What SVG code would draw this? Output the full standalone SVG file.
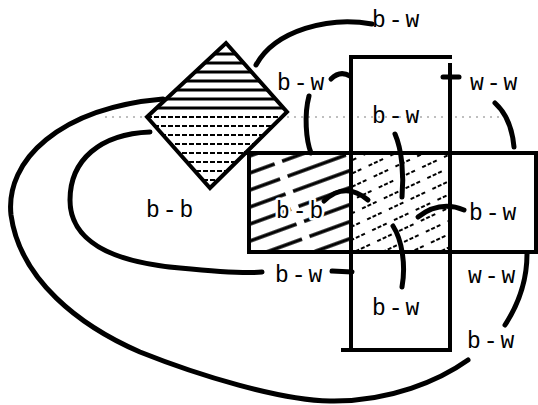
<svg xmlns="http://www.w3.org/2000/svg" width="538" height="405" viewBox="0 0 538 405">
<style>
  .frame { fill: none; stroke: #000; stroke-width: 4; stroke-linecap: square; }
  .conn { fill: none; stroke: #000; stroke-width: 5; stroke-linecap: round; }
  .lbl { font-family: "Liberation Mono", "DejaVu Sans Mono", monospace; font-size: 23px; letter-spacing: 3px; fill: #000; }
  .halo { stroke: #fff; stroke-width: 5px; paint-order: stroke; stroke-linejoin: round; }
  .hb { stroke: #000; stroke-width: 3; }
  .hl { stroke: #000; stroke-width: 2; stroke-dasharray: 5 2; }
</style>
<defs>
  <pattern id="boldHatch" patternUnits="userSpaceOnUse" width="70" height="16" patternTransform="rotate(-20)">
    <line x1="0" y1="8" x2="62" y2="8" stroke="#000" stroke-width="3.5"/>
  </pattern>
  <pattern id="lightHatch" patternUnits="userSpaceOnUse" width="24" height="12" patternTransform="rotate(-25)">
    <line x1="0" y1="6" x2="16" y2="6" stroke="#000" stroke-width="2" stroke-dasharray="4 2"/>
  </pattern>
  <clipPath id="diaClip"><polygon points="226,43 287,112 210,188 147,117"/></clipPath>
</defs>
<rect width="538" height="405" fill="#fff"/>

<line x1="105" y1="117" x2="510" y2="117" stroke="#aaa" stroke-width="1.5" stroke-dasharray="2 5"/>

<g id="diamond">
  <g clip-path="url(#diaClip)">
    <line class="hb" x1="140" y1="54" x2="300" y2="54"/>
    <line class="hb" x1="140" y1="63" x2="300" y2="63"/>
    <line class="hb" x1="140" y1="72" x2="300" y2="72"/>
    <line class="hb" x1="140" y1="81" x2="300" y2="81"/>
    <line class="hb" x1="140" y1="90" x2="300" y2="90"/>
    <line class="hb" x1="140" y1="99" x2="300" y2="99"/>
    <line class="hb" x1="140" y1="108" x2="300" y2="108"/>
    <line class="hl" x1="140" y1="117" x2="300" y2="117"/>
    <line class="hl" x1="140" y1="126" x2="300" y2="126"/>
    <line class="hl" x1="140" y1="135" x2="300" y2="135"/>
    <line class="hl" x1="140" y1="144" x2="300" y2="144"/>
    <line class="hl" x1="140" y1="153" x2="300" y2="153"/>
    <line class="hl" x1="140" y1="162" x2="300" y2="162"/>
    <line class="hl" x1="140" y1="171" x2="300" y2="171"/>
    <line class="hl" x1="140" y1="180" x2="300" y2="180"/>
  </g>
  <polygon class="frame" points="226,43 287,112 210,188 147,117" stroke-linejoin="miter"/>
</g>

<g id="cross">
  <rect x="250" y="154" width="101" height="98" fill="url(#boldHatch)"/>
  <rect x="351" y="154" width="99" height="98" fill="url(#lightHatch)"/>
  <line class="frame" x1="351" y1="57" x2="450" y2="57"/>
  <line class="frame" x1="351" y1="57" x2="351" y2="350"/>
  <line class="frame" x1="450" y1="65" x2="450" y2="350"/>
  <line class="frame" x1="343" y1="350" x2="450" y2="350"/>
  <line class="frame" x1="246" y1="153" x2="536" y2="153"/>
  <line class="frame" x1="249" y1="153" x2="249" y2="252"/>
  <line class="frame" x1="536" y1="153" x2="536" y2="252"/>
  <line class="frame" x1="249" y1="252" x2="536" y2="252"/>
</g>

<g id="connectors">
  <path class="conn" d="M372,24 C330,16 275,30 256,65"/>
  <path class="conn" d="M331,79 Q340,70 350,76"/>
  <path class="conn" d="M309,96 C304,115 306,140 311,153"/>
  <path class="conn" d="M443,77 L459,77"/>
  <path class="conn" d="M495,103 C505,112 512,125 514,147"/>
  <path class="conn" d="M395,134 C402,150 404,175 402,197"/>
  <path class="conn" d="M324,201 Q345,181 368,200"/>
  <path class="conn" d="M418,217 Q440,200 464,210"/>
  <path class="conn" d="M393,226 C402,240 406,265 402,287"/>
  <path class="conn" d="M332,271 L352,272"/>
  <path class="conn" d="M527,254 C527,280 518,305 505,325"/>
  <path class="conn" d="M468,360 C440,380 390,402 330,401 C280,400 200,376 140,352 C80,326 20,280 11,215 C5,160 60,108 163,99"/>
  <path class="conn" d="M150,132 C100,134 70,160 70,200 C70,240 110,262 180,268 C220,272 245,274 262,272"/>
</g>

<g id="labels">
  <text class="lbl" x="372" y="27">b-w</text>
  <text class="lbl" x="277" y="90">b-w</text>
  <text class="lbl" x="470" y="90">w-w</text>
  <text class="lbl" x="372" y="123">b-w</text>
  <text class="lbl" x="146" y="217">b-b</text>
  <text class="lbl halo" x="276" y="218">b-b</text>
  <text class="lbl" x="469" y="220">b-w</text>
  <text class="lbl" x="275" y="282">b-w</text>
  <text class="lbl" x="468" y="283">w-w</text>
  <text class="lbl" x="372" y="315">b-w</text>
  <text class="lbl" x="467" y="348">b-w</text>
</g>
</svg>
